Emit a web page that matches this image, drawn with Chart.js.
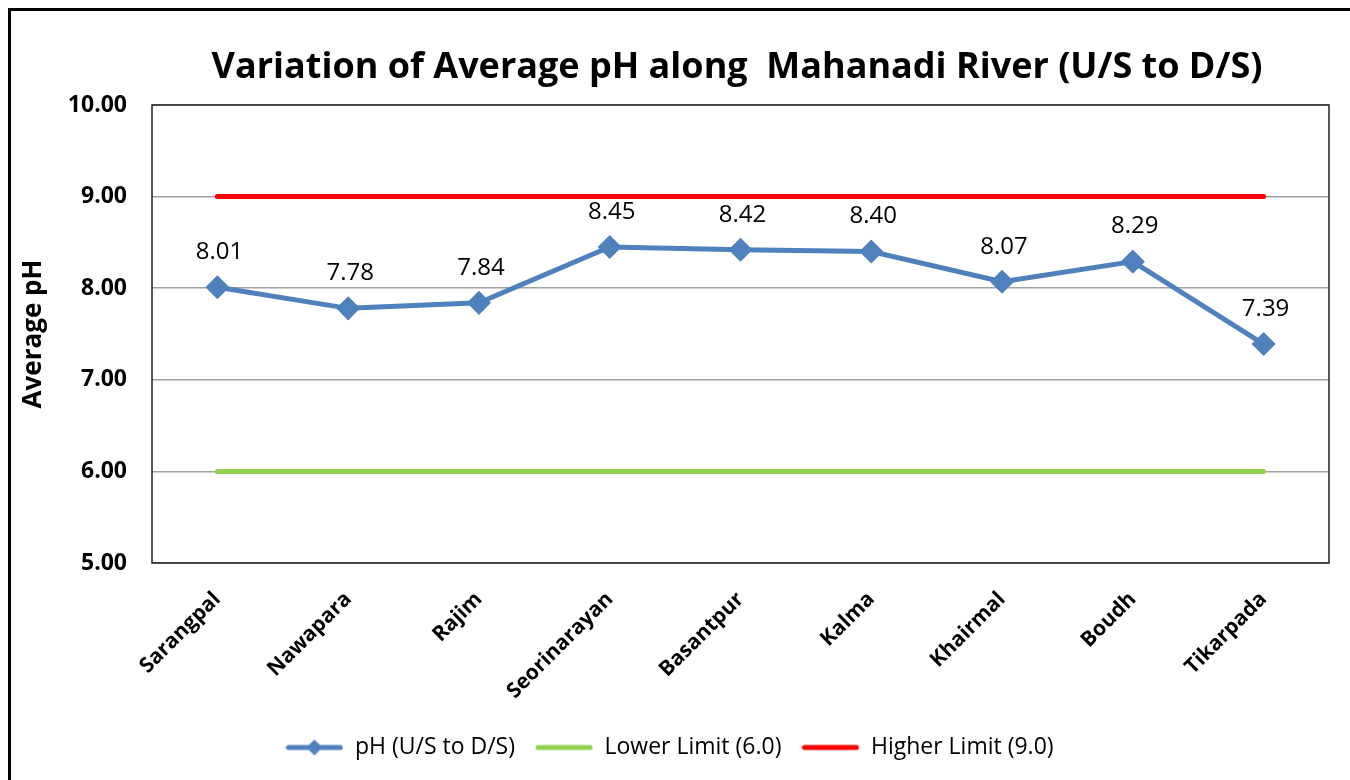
<!DOCTYPE html>
<html>
<head>
<meta charset="utf-8">
<script src="https://cdn.jsdelivr.net/npm/chart.js@4/dist/chart.umd.min.js"></script>
<style>
  html, body { margin: 0; padding: 0; background: #fff; }
  #wrap { width: 1350px; height: 780px; position: relative; }
</style>
</head>
<body>
<div id="wrap"><canvas id="c" width="1350" height="780"></canvas></div>
<script>
const categories = ["Sarangpal", "Nawapara", "Rajim", "Seorinarayan", "Basantpur", "Kalma", "Khairmal", "Boudh", "Tikarpada"];
const phValues = [8.01, 7.78, 7.84, 8.45, 8.42, 8.40, 8.07, 8.29, 7.39];
const lowerLimit = [6.0, 6.0, 6.0, 6.0, 6.0, 6.0, 6.0, 6.0, 6.0];
const higherLimit = [9.0, 9.0, 9.0, 9.0, 9.0, 9.0, 9.0, 9.0, 9.0];
const yTicks = [5, 6, 7, 8, 9, 10];
const titleText = 'Variation of Average pH along  Mahanadi River (U/S to D/S)';

const FONT = "'Open Sans', 'Liberation Sans', sans-serif";
const BLUE = '#4F81BD', GREEN = '#92D050', RED = '#FF0000';

function legendIcon(color, diamond) {
  const cv = document.createElement('canvas');
  cv.width = 58; cv.height = 20;
  const g = cv.getContext('2d');
  g.strokeStyle = color; g.lineWidth = 5; g.lineCap = 'round';
  g.beginPath(); g.moveTo(3, 10); g.lineTo(55, 10); g.stroke();
  if (diamond) {
    g.fillStyle = color;
    g.beginPath(); g.moveTo(29, 2); g.lineTo(37, 10); g.lineTo(29, 18); g.lineTo(21, 10); g.closePath(); g.fill();
  }
  return cv;
}
const icons = [legendIcon(BLUE, true), legendIcon(GREEN, false), legendIcon(RED, false)];

const framePlugin = {
  id: 'frame',
  beforeDraw(chart) {
    const ctx = chart.ctx;
    ctx.save();
    ctx.strokeStyle = '#000'; ctx.lineWidth = 3;
    ctx.strokeRect(9.5, 9.5, 1400, 800);
    ctx.fillStyle = '#000';
    ctx.font = "bold 36px " + FONT;
    ctx.textAlign = 'center'; ctx.textBaseline = 'middle';
    ctx.fillText(titleText, 737, 68);
    ctx.restore();
  },
  afterDatasetsDraw(chart) {
    const ctx = chart.ctx, a = chart.chartArea;
    ctx.save();
    ctx.strokeStyle = '#222'; ctx.lineWidth = 1.5;
    ctx.strokeRect(a.left, a.top, a.right - a.left, a.bottom - a.top);
    const meta = chart.getDatasetMeta(0);
    ctx.fillStyle = '#000';
    ctx.font = "24px " + FONT;
    ctx.textAlign = 'center'; ctx.textBaseline = 'middle';
    meta.data.forEach((pt, i) => {
      ctx.fillText(phValues[i].toFixed(2), pt.x + 2, pt.y - 35);
    });
    ctx.restore();
  }
};

new Chart(document.getElementById('c'), {
  type: 'line',
  data: {
    labels: categories,
    datasets: [
      { label: 'pH (U/S to D/S)', data: phValues, borderColor: BLUE, backgroundColor: BLUE,
        borderWidth: 5, pointStyle: 'rectRot', pointRadius: 8.5, pointHoverRadius: 8.5, tension: 0, order: 0 },
      { label: 'Lower Limit (6.0)', data: lowerLimit, borderColor: GREEN, backgroundColor: GREEN,
        borderWidth: 5, pointRadius: 0, borderCapStyle: 'round', order: 1 },
      { label: 'Higher Limit (9.0)', data: higherLimit, borderColor: RED, backgroundColor: RED,
        borderWidth: 5, pointRadius: 0, borderCapStyle: 'round', order: 2 }
    ]
  },
  options: {
    responsive: false,
    animation: false,
    layout: { padding: { left: 10, right: 21, top: 105, bottom: 11 } },
    plugins: {
      title: { display: false },
      legend: {
        position: 'bottom',
        labels: {
          color: '#000',
          font: { family: FONT, size: 23 },
          usePointStyle: true,
          pointStyleWidth: 58,
          padding: 20,
          generateLabels(chart) {
            return chart.data.datasets.map((ds, i) => ({
              text: ds.label, pointStyle: icons[i], fontColor: '#000',
              datasetIndex: i, hidden: false, lineWidth: 0, strokeStyle: 'transparent', fillStyle: 'transparent'
            }));
          }
        }
      },
      tooltip: { enabled: false }
    },
    scales: {
      x: {
        offset: true,
        grid: { display: false, drawTicks: false },
        border: { display: false },
        ticks: { color: '#000', font: { family: FONT, size: 21, weight: 'bold' }, minRotation: 45, maxRotation: 45, padding: 24 },
        afterFit(s) { s.height = 153; }
      },
      y: {
        min: 5, max: 10,
        afterBuildTicks(s) { s.ticks = yTicks.map(v => ({ value: v })); },
        grid: { color: '#a0a0a0', lineWidth: 1.5, drawTicks: false },
        border: { display: false },
        ticks: { color: '#000', font: { family: FONT, size: 23, weight: 'bold' }, padding: 25,
          callback: v => Number(v).toFixed(2) },
        title: { display: true, text: 'Average pH', color: '#000', font: { family: FONT, size: 26, weight: 'bold' }, padding: { top: 8, bottom: 0 } },
        afterFit(s) { s.width = 142; }
      }
    }
  },
  plugins: [framePlugin]
});
</script>
</body>
</html>
